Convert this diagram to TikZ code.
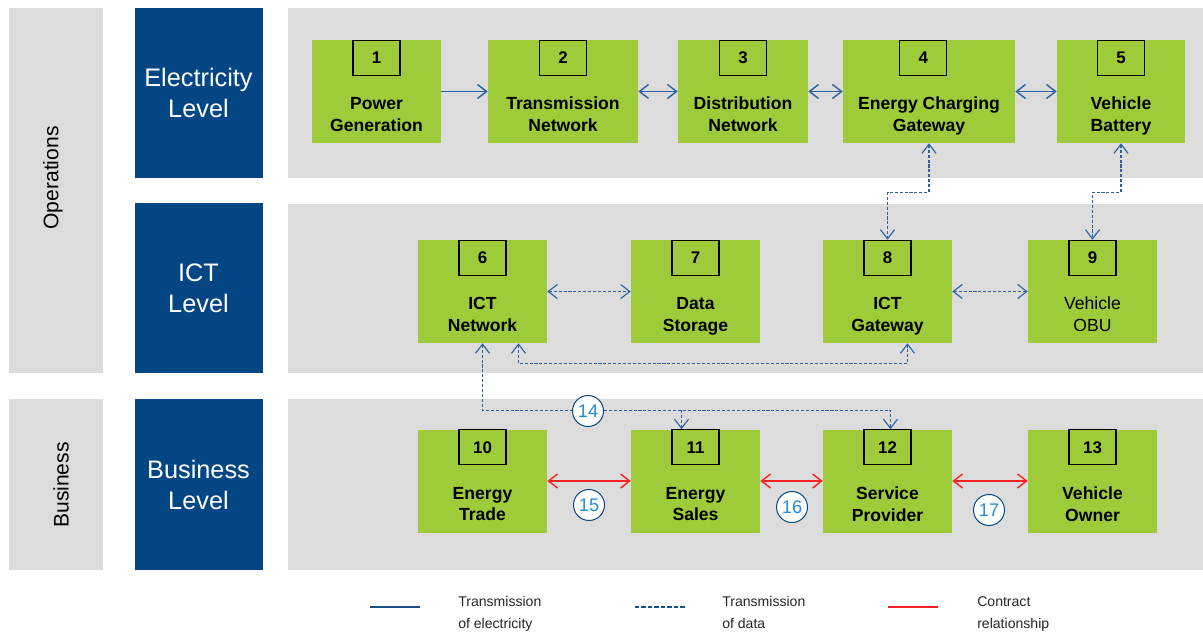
\documentclass[tikz,border=0pt]{standalone}
\usepackage{fontspec}
\setmainfont{Liberation Sans}
\usetikzlibrary{positioning, calc, arrows.meta}
\definecolor{bandgray}{RGB}{220,220,220}
\definecolor{levelblue}{RGB}{4,69,132}
\definecolor{boxgreen}{RGB}{158,203,58}
\definecolor{linkblue}{RGB}{44,96,160}
\definecolor{legblue}{RGB}{28,78,142}
\definecolor{contractred}{RGB}{250,35,35}
\definecolor{circblue}{RGB}{38,140,215}
\newcommand{\px}{0.025cm}
\tikzset{
    level/.style={fill=levelblue, text=white, align=center, inner sep=0pt,
        minimum width=128*\px, minimum height=170*\px,
        font=\fontsize{18pt}{22pt}\selectfont},
    side/.style={rotate=90, font=\fontsize{15pt}{18pt}\selectfont},
    gbox/.style={fill=boxgreen, inner sep=0pt, minimum width=129*\px, minimum height=103*\px},
    gtext/.style={align=center, inner sep=0pt, text depth=3pt,
        font=\fontsize{12.5pt}{15.5pt}\selectfont\bfseries},
    numbox/.style={draw=black, line width=0.8pt, inner sep=0pt,
        minimum width=47*\px, minimum height=35*\px,
        font=\fontsize{12pt}{14pt}\selectfont\bfseries},
    circnum/.style={circle, draw=levelblue, fill=white, line width=0.7pt, inner sep=0pt,
        minimum size=31*\px, text=circblue, font=\fontsize{13pt}{15pt}\selectfont},
    elec/.style={draw=linkblue, line width=1pt},
    data/.style={draw=linkblue, line width=0.8pt, dash pattern=on 2.2pt off 1.3pt},
    contract/.style={draw=contractred, line width=1pt},
    legtext/.style={align=left, anchor=west, inner sep=0pt, text depth=2.5pt, text=black!85,
        font=\fontsize{10pt}{15.5pt}\selectfont},
}
\begin{document}
\begin{tikzpicture}[x=\px, y=-\px, >={Straight Barb[length=6.5pt,width=10pt]}]
    \useasboundingbox (0,0) rectangle (1203,635);
    \fill[bandgray] (9,8) rectangle (103,373);
    \fill[bandgray] (9,399) rectangle (103,570);
    \fill[bandgray] (288,8) rectangle (1203,178);
    \fill[bandgray] (288,204) rectangle (1203,373);
    \fill[bandgray] (288,399) rectangle (1203,570);
    \node[side] (ops) at (53,178) {Operations};
    \node[side] (busi) at (61,485) {Business};
    \node[level] (elev) at (198.5,93) {Electricity\\Level};
    \node[level] (ictlev) at (198.5,288.5) {ICT\\Level};
    \node[level] (buslev) at (198.5,484.5) {Business\\Level};

    \node[gbox] (b1) at (376.5,91.5) {};
    \node[gbox, minimum width=150*\px] (b2) at (563,91.5) {};
    \node[gbox, minimum width=130*\px] (b3) at (743,91.5) {};
    \node[gbox, minimum width=172*\px] (b4) at (929,91.5) {};
    \node[gbox, minimum width=128*\px] (b5) at (1121,91.5) {};
    \node[gbox] (b6) at (482.5,291.5) {};
    \node[gbox] (b7) at (695.5,291.5) {};
    \node[gbox] (b8) at (887.5,291.5) {};
    \node[gbox] (b9) at (1092.5,291.5) {};
    \node[gbox] (b10) at (482.5,481) {};
    \node[gbox] (b11) at (695.5,481) {};
    \node[gbox] (b12) at (887.5,481) {};
    \node[gbox] (b13) at (1092.5,481) {};

    \node[numbox, below=0pt of b1.north] (n1) {1};
    \node[numbox, below=0pt of b2.north] (n2) {2};
    \node[numbox, below=0pt of b3.north] (n3) {3};
    \node[numbox, below=0pt of b4.north, xshift=-4pt] (n4) {4};
    \node[numbox, below=0pt of b5.north] (n5) {5};
    \node[numbox, below=0pt of b6.north] (n6) {6};
    \node[numbox, below=0pt of b7.north] (n7) {7};
    \node[numbox, below=0pt of b8.north] (n8) {8};
    \node[numbox, below=0pt of b9.north] (n9) {9};
    \node[numbox, below=0pt of b10.north] (n10) {10};
    \node[numbox, below=0pt of b11.north] (n11) {11};
    \node[numbox, below=0pt of b12.north] (n12) {12};
    \node[numbox, below=0pt of b13.north] (n13) {13};

    \node[gtext] (t1) at ($(b1.center)+(0,25)$) {Power\\Generation};
    \node[gtext] (t2) at ($(b2.center)+(0,25)$) {Transmission\\Network};
    \node[gtext] (t3) at ($(b3.center)+(0,25)$) {Distribution\\Network};
    \node[gtext] (t4) at ($(b4.center)+(0,25)$) {Energy Charging\\Gateway};
    \node[gtext] (t5) at ($(b5.center)+(0,25)$) {Vehicle\\Battery};
    \node[gtext] (t6) at ($(b6.center)+(0,25)$) {ICT\\Network};
    \node[gtext] (t7) at ($(b7.center)+(0,25)$) {Data\\Storage};
    \node[gtext] (t8) at ($(b8.center)+(0,25)$) {ICT\\Gateway};
    \node[gtext, font=\fontsize{12.5pt}{15.5pt}\selectfont] (t9) at ($(b9.center)+(0,25)$) {Vehicle\\OBU};
    \node[gtext] (t10) at ($(b10.center)+(0,25)$) {Energy\\Trade};
    \node[gtext] (t11) at ($(b11.center)+(0,25)$) {Energy\\Sales};
    \node[gtext] (t12) at ($(b12.center)+(0,25)$) {Service\\Provider};
    \node[gtext] (t13) at ($(b13.center)+(0,25)$) {Vehicle\\Owner};

    \draw[elec, ->] (b1.east) -- (b2.west);
    \draw[elec, <->] (b2.east) -- (b3.west);
    \draw[elec, <->] (b3.east) -- (b4.west);
    \draw[elec, <->] (b4.east) -- (b5.west);

    \draw[data, <->] (b4.south) -- ++(0,49) -| (b8.north);
    \draw[data, <->] (b5.south) -- ++(0,49) -| (b9.north);
    \draw[data, <->] (b6.east) -- (b7.west);
    \draw[data, <->] (b8.east) -- (b9.west);
    \draw[data, <->] ($(b6.south)+(36,0)$) -- ++(0,20) -| ($(b8.south)+(20,0)$);
    \draw[data, <->] (b6.south) -- ++(0,67) coordinate (j14) -| ($(b12.north)+(3,0)$);
    \coordinate (a11) at ($(b11.north)+(-14,0)$);
    \draw[data, ->] (a11 |- j14) -- (a11);

    \draw[contract, <->] (b10.east) -- (b11.west);
    \draw[contract, <->] (b11.east) -- (b12.west);
    \draw[contract, <->] (b12.east) -- (b13.west);

    \node[circnum] (c14) at (588,411) {14};
    \node[circnum] (c15) at (589,505) {15};
    \node[circnum] (c16) at (792,507) {16};
    \node[circnum] (c17) at (989,510) {17};

    \node[legtext] (l1) at (458,614) {Transmission\\of electricity};
    \node[legtext] (l2) at (722,614) {Transmission\\of data};
    \node[legtext] (l3) at (977,614) {Contract\\relationship};
    \coordinate (s1) at (370,607);
    \coordinate (s2) at (635,607);
    \coordinate (s3) at (888,607);
    \draw[draw=legblue, line width=2pt] (s1) -- ++(50,0);
    \draw[draw=legblue, line width=2pt, dash pattern=on 3pt off 1.6pt] (s2) -- ++(50,0);
    \draw[draw=contractred, line width=2pt] (s3) -- ++(50,0);
\end{tikzpicture}
\end{document}
